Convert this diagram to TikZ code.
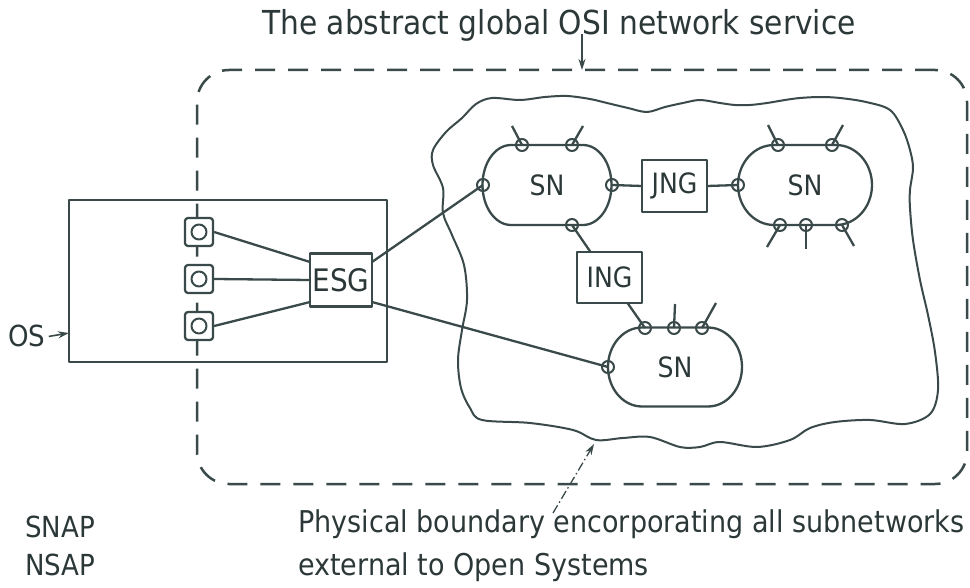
\documentclass[tikz,border=0pt]{standalone}
\usepackage{fontspec}
\setmainfont{DejaVu Sans}[FakeStretch=0.9]
\usetikzlibrary{arrows.meta}
\definecolor{ink}{HTML}{3A4A4A}
\definecolor{textink}{HTML}{2C3838}
\newcommand\setfs[1]{\fontsize{#1}{#1}\selectfont}
% stadium outline around a named node: half straight length, end x radius, end y radius
\newcommand\snoutline[4]{%
  \draw[conn] ([xshift=-#2pt]#1.north) -- ([xshift=#2pt]#1.north)
    arc[start angle=90,end angle=-90,x radius=#3pt,y radius=#4pt]
    -- ([xshift=-#2pt]#1.south)
    arc[start angle=270,end angle=90,x radius=#3pt,y radius=#4pt] -- cycle;}
\tikzset{
  conn/.style={draw=ink, line width=2.3pt},
  frame/.style={draw=ink, line width=2.5pt, dash pattern=on 20pt off 13pt,
    rounded corners=32pt, inner sep=0pt, outer sep=0pt},
  sysbox/.style={draw=ink, line width=2.3pt, inner sep=0pt, outer sep=0pt},
  gate/.style={draw=ink, line width=2.3pt, inner sep=0pt, outer sep=0pt,
    text=textink, minimum width=65pt, minimum height=52pt},
  snnode/.style={inner sep=0pt, outer sep=0pt, text=textink, font=\setfs{28}},
  att/.style={circle, draw=ink, line width=2pt, minimum size=12pt, inner sep=0pt},
  snapsym/.style={rectangle, draw=ink, fill=white, line width=2.3pt,
    rounded corners=3pt, minimum size=28pt, inner sep=0pt,
    path picture={\draw[ink, line width=2pt] (path picture bounding box.center) circle[radius=7.5pt];}},
  label/.style={text=textink, inner sep=0pt},
  leader/.style={draw=ink, line width=1.6pt, -{Stealth[length=11pt,width=7pt]}},
}
\begin{document}
\begin{tikzpicture}[x=1pt,y=-1pt, line join=round]
\useasboundingbox (0,0) rectangle (970,588);

% service boundary
\node[frame, minimum width=770pt, minimum height=414pt] (svc) at (582,277) {};
\node[label, anchor=base, font=\setfs{33}] (title) at (559,35) {The abstract global OSI network service};
\draw[leader] (svc.north |- title.south) ++(0,-8) -- (svc.north);

% physical boundary of the subnetworks
\draw[ink, line width=2pt] plot[smooth cycle, tension=0.55] coordinates {
  (433,150) (446,132) (462,118) (476,104) (492,98) (520,100) (545,97) (567,96)
  (590,99) (607,103) (628,108) (647,112) (665,107) (683,103) (700,100) (720,103)
  (735,105) (750,105) (767,103) (785,100) (800,98) (820,97) (840,98) (866,102)
  (890,110) (903,130) (910,150) (913,168) (910,190) (910,208) (913,240) (920,280)
  (928,315) (935,352) (938,390) (930,414) (905,424) (870,420) (835,422) (810,428)
  (790,440) (757,447) (720,442) (700,447) (680,447) (650,437) (623,438) (596,440)
  (573,430) (530,423) (482,420) (470,408) (461,388) (458,360) (462,330) (467,300)
  (464,265) (452,235) (443,213) (443,188) (433,165)};
\coordinate (cloudpt) at (594,444);
\coordinate (leadtail) at (553,513);
\draw[leader, line width=1.3pt, dash pattern=on 9pt off 3pt on 1.5pt off 3pt] (leadtail) -- (cloudpt);

% open system
\node[sysbox, minimum width=318pt, minimum height=162pt] (os) at (228,281) {};
\node[label, anchor=base, font=\setfs{29}] (oslabel) at (27,347) {OS};
\draw[leader] (oslabel.east) ++(3,0) -- ([yshift=-52pt]os.west);

\node[snapsym] (p1) at (199,232) {};
\node[snapsym] (p2) at (199,279) {};
\node[snapsym] (p3) at (199,326) {};
\node[gate, font=\setfs{31}, minimum width=62pt, minimum height=53pt] (esg) at (341,280) {ESG};

% subnetworks
\node[snnode, minimum width=129pt, minimum height=80pt] (sn1) at (547,185) {SN};
\node[snnode, minimum width=134pt, minimum height=80pt] (sn2) at (805,185) {SN};
\node[snnode, minimum width=134pt, minimum height=79pt] (sn3) at (675,367) {SN};
\snoutline{sn1}{36}{28.5}{40}
\snoutline{sn2}{31}{36}{40}
\snoutline{sn3}{33}{34}{39.5}

\node[gate, font=\setfs{28}] (jng) at (674.5,186) {JNG};
\node[gate, font=\setfs{28}, minimum height=51pt] (ing) at (609.5,277.5) {ING};

% attachment points
\node[att] (a1l) at (483,185) {};
\node[att] (a1r) at (612,185) {};
\node[att] (a1t1) at (522,145) {};
\node[att] (a1t2) at (572,145) {};
\node[att] (a1b) at (572,225) {};
\node[att] (a2l) at (738,185) {};
\node[att] (a2t1) at (778,145) {};
\node[att] (a2t2) at (832,145) {};
\node[att] (a2b1) at (780,225) {};
\node[att] (a2b2) at (806,225) {};
\node[att] (a2b3) at (842,225) {};
\node[att] (a3l) at (608,367) {};
\node[att] (a3t1) at (645,328) {};
\node[att] (a3t2) at (674,328) {};
\node[att] (a3t3) at (702,328) {};

% links
\draw[conn] (p1.east) -- ([yshift=18pt]esg.west);
\draw[conn] (p2.east) -- (esg.west);
\draw[conn] (p3.east) -- ([yshift=-22pt]esg.west);
\draw[conn] ([yshift=18pt]esg.east) -- (a1l.center);
\draw[conn] ([yshift=-22pt]esg.east) -- (a3l.center);
\draw[conn] (a1r.center) -- (jng.west);
\draw[conn] (jng.east) -- (a2l.center);
\draw[conn] (a1b.center) -- ([xshift=-19pt]ing.north);
\draw[conn] ([xshift=18pt]ing.south) -- (a3t1.center);

% stubs to end systems
\draw[conn] (a1t1.center) -- ++(-10,-19);
\draw[conn] (a1t2.center) -- ++(11,-19);
\draw[conn] (a2t1.center) -- ++(-10,-20);
\draw[conn] (a2t2.center) -- ++(11,-20);
\draw[conn] (a2b1.center) -- ++(-13,22);
\draw[conn] (a2b2.center) -- ++(0,24);
\draw[conn] (a2b3.center) -- ++(12,21);
\draw[conn] (a3t2.center) -- ++(1,-24);
\draw[conn] (a3t3.center) -- ++(14,-25);

% captions
\node[label, anchor=base west, font=\setfs{30}] (cap1) at (298,532) {Physical boundary encorporating all subnetworks};
\node[label, anchor=base west, font=\setfs{30}] (cap2) at (298,575) {external to Open Systems};
\node[label, anchor=base west, font=\setfs{29}] (key1) at (25,537) {SNAP};
\node[label, anchor=base west, font=\setfs{29}] (key2) at (25,575) {NSAP};
\end{tikzpicture}
\end{document}
